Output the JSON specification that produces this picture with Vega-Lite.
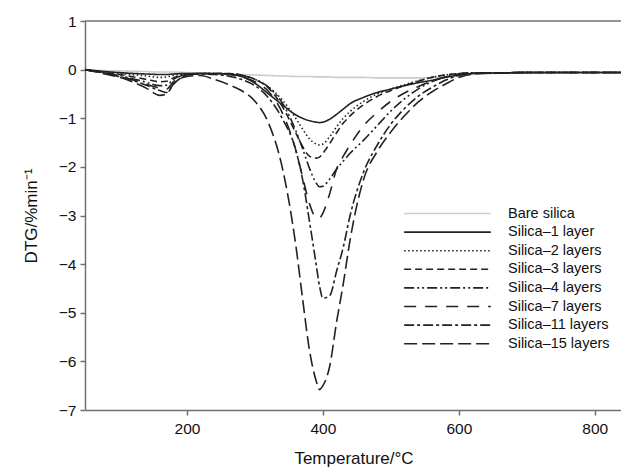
{
  "$schema": "https://vega.github.io/schema/vega-lite/v6.json",
  "width": 537,
  "height": 389,
  "autosize": "none",
  "padding": {"left": 85, "top": 21, "right": 0, "bottom": 61},
  "config": {
    "view": {"stroke": null},
    "font": "Liberation Sans",
    "axis": {"grid": false, "domainColor": "#707070", "domainWidth": 1.5, "tickColor": "#707070", "tickWidth": 1.5, "tickSize": 5, "labelColor": "#111", "labelFontSize": 15.5, "titleColor": "#111", "titleFontSize": 17, "titleFontWeight": "normal", "labelFont": "Liberation Sans", "titleFont": "Liberation Sans"}
  },
  "layer": [
    {
      "data": {"values": [{"y": 1}]},
      "mark": {"type": "rule", "color": "#707070", "strokeWidth": 1.5},
      "encoding": {"y": {"field": "y", "type": "quantitative", "scale": {"domain": [-7, 1]}}}
    },
    {
      "data": {"values": [
        {"T":50,"Bare silica":0,"Silica–1 layer":0,"Silica–2 layers":0,"Silica–3 layers":0,"Silica–4 layers":0,"Silica–7 layers":0,"Silica–11 layers":0,"Silica–15 layers":0},
        {"T":80,"Bare silica":-0.02,"Silica–1 layer":-0.04,"Silica–2 layers":-0.05,"Silica–3 layers":-0.06,"Silica–4 layers":-0.07,"Silica–7 layers":-0.08,"Silica–11 layers":-0.08,"Silica–15 layers":-0.09},
        {"T":110,"Bare silica":-0.03,"Silica–1 layer":-0.07,"Silica–2 layers":-0.09,"Silica–3 layers":-0.12,"Silica–4 layers":-0.15,"Silica–7 layers":-0.17,"Silica–11 layers":-0.18,"Silica–15 layers":-0.2},
        {"T":140,"Bare silica":-0.04,"Silica–1 layer":-0.09,"Silica–2 layers":-0.13,"Silica–3 layers":-0.2,"Silica–4 layers":-0.26,"Silica–7 layers":-0.3,"Silica–11 layers":-0.32,"Silica–15 layers":-0.38},
        {"T":160,"Bare silica":-0.05,"Silica–1 layer":-0.1,"Silica–2 layers":-0.16,"Silica–3 layers":-0.25,"Silica–4 layers":-0.33,"Silica–7 layers":-0.38,"Silica–11 layers":-0.43,"Silica–15 layers":-0.53},
        {"T":170,"Bare silica":-0.05,"Silica–1 layer":-0.1,"Silica–2 layers":-0.15,"Silica–3 layers":-0.24,"Silica–4 layers":-0.32,"Silica–7 layers":-0.4,"Silica–11 layers":-0.47,"Silica–15 layers":-0.5},
        {"T":180,"Bare silica":-0.05,"Silica–1 layer":-0.09,"Silica–2 layers":-0.12,"Silica–3 layers":-0.17,"Silica–4 layers":-0.2,"Silica–7 layers":-0.25,"Silica–11 layers":-0.3,"Silica–15 layers":-0.3},
        {"T":200,"Bare silica":-0.06,"Silica–1 layer":-0.08,"Silica–2 layers":-0.09,"Silica–3 layers":-0.1,"Silica–4 layers":-0.1,"Silica–7 layers":-0.11,"Silica–11 layers":-0.12,"Silica–15 layers":-0.14},
        {"T":220,"Bare silica":-0.07,"Silica–1 layer":-0.08,"Silica–2 layers":-0.08,"Silica–3 layers":-0.08,"Silica–4 layers":-0.08,"Silica–7 layers":-0.08,"Silica–11 layers":-0.09,"Silica–15 layers":-0.12},
        {"T":240,"Bare silica":-0.08,"Silica–1 layer":-0.08,"Silica–2 layers":-0.08,"Silica–3 layers":-0.08,"Silica–4 layers":-0.08,"Silica–7 layers":-0.09,"Silica–11 layers":-0.1,"Silica–15 layers":-0.2},
        {"T":260,"Bare silica":-0.09,"Silica–1 layer":-0.09,"Silica–2 layers":-0.08,"Silica–3 layers":-0.08,"Silica–4 layers":-0.09,"Silica–7 layers":-0.1,"Silica–11 layers":-0.13,"Silica–15 layers":-0.3},
        {"T":280,"Bare silica":-0.1,"Silica–1 layer":-0.14,"Silica–2 layers":-0.11,"Silica–3 layers":-0.11,"Silica–4 layers":-0.12,"Silica–7 layers":-0.15,"Silica–11 layers":-0.2,"Silica–15 layers":-0.43},
        {"T":300,"Bare silica":-0.11,"Silica–1 layer":-0.28,"Silica–2 layers":-0.2,"Silica–3 layers":-0.2,"Silica–4 layers":-0.2,"Silica–7 layers":-0.25,"Silica–11 layers":-0.33,"Silica–15 layers":-0.65},
        {"T":320,"Bare silica":-0.12,"Silica–1 layer":-0.5,"Silica–2 layers":-0.36,"Silica–3 layers":-0.38,"Silica–4 layers":-0.36,"Silica–7 layers":-0.45,"Silica–11 layers":-0.58,"Silica–15 layers":-1.1},
        {"T":340,"Bare silica":-0.13,"Silica–1 layer":-0.72,"Silica–2 layers":-0.62,"Silica–3 layers":-0.75,"Silica–4 layers":-0.68,"Silica–7 layers":-0.88,"Silica–11 layers":-1.0,"Silica–15 layers":-2.0},
        {"T":360,"Bare silica":-0.14,"Silica–1 layer":-0.93,"Silica–2 layers":-1.0,"Silica–3 layers":-1.3,"Silica–4 layers":-1.25,"Silica–7 layers":-1.65,"Silica–11 layers":-1.65,"Silica–15 layers":-3.6},
        {"T":370,"Bare silica":-0.14,"Silica–1 layer":-1.0,"Silica–2 layers":-1.22,"Silica–3 layers":-1.58,"Silica–4 layers":-1.62,"Silica–7 layers":-2.2,"Silica–11 layers":-2.25,"Silica–15 layers":-4.7},
        {"T":380,"Bare silica":-0.14,"Silica–1 layer":-1.05,"Silica–2 layers":-1.42,"Silica–3 layers":-1.78,"Silica–4 layers":-2.02,"Silica–7 layers":-2.75,"Silica–11 layers":-3.1,"Silica–15 layers":-5.75},
        {"T":390,"Bare silica":-0.15,"Silica–1 layer":-1.08,"Silica–2 layers":-1.53,"Silica–3 layers":-1.82,"Silica–4 layers":-2.33,"Silica–7 layers":-3.04,"Silica–11 layers":-4.0,"Silica–15 layers":-6.4},
        {"T":395,"Bare silica":-0.15,"Silica–1 layer":-1.09,"Silica–2 layers":-1.55,"Silica–3 layers":-1.8,"Silica–4 layers":-2.41,"Silica–7 layers":-3.05,"Silica–11 layers":-4.45,"Silica–15 layers":-6.58},
        {"T":400,"Bare silica":-0.15,"Silica–1 layer":-1.08,"Silica–2 layers":-1.53,"Silica–3 layers":-1.72,"Silica–4 layers":-2.4,"Silica–7 layers":-2.95,"Silica–11 layers":-4.7,"Silica–15 layers":-6.5},
        {"T":410,"Bare silica":-0.15,"Silica–1 layer":-1.02,"Silica–2 layers":-1.38,"Silica–3 layers":-1.52,"Silica–4 layers":-2.25,"Silica–7 layers":-2.55,"Silica–11 layers":-4.65,"Silica–15 layers":-6.1},
        {"T":420,"Bare silica":-0.16,"Silica–1 layer":-0.92,"Silica–2 layers":-1.18,"Silica–3 layers":-1.3,"Silica–4 layers":-2.05,"Silica–7 layers":-2.05,"Silica–11 layers":-4.15,"Silica–15 layers":-5.2},
        {"T":430,"Bare silica":-0.16,"Silica–1 layer":-0.81,"Silica–2 layers":-1.0,"Silica–3 layers":-1.1,"Silica–4 layers":-1.88,"Silica–7 layers":-1.78,"Silica–11 layers":-3.65,"Silica–15 layers":-4.4},
        {"T":440,"Bare silica":-0.16,"Silica–1 layer":-0.7,"Silica–2 layers":-0.86,"Silica–3 layers":-0.95,"Silica–4 layers":-1.72,"Silica–7 layers":-1.55,"Silica–11 layers":-3.0,"Silica–15 layers":-3.5},
        {"T":460,"Bare silica":-0.16,"Silica–1 layer":-0.57,"Silica–2 layers":-0.65,"Silica–3 layers":-0.72,"Silica–4 layers":-1.45,"Silica–7 layers":-1.15,"Silica–11 layers":-2.1,"Silica–15 layers":-2.25},
        {"T":480,"Bare silica":-0.17,"Silica–1 layer":-0.47,"Silica–2 layers":-0.5,"Silica–3 layers":-0.55,"Silica–4 layers":-1.15,"Silica–7 layers":-0.88,"Silica–11 layers":-1.55,"Silica–15 layers":-1.68},
        {"T":500,"Bare silica":-0.17,"Silica–1 layer":-0.4,"Silica–2 layers":-0.4,"Silica–3 layers":-0.43,"Silica–4 layers":-0.85,"Silica–7 layers":-0.65,"Silica–11 layers":-1.12,"Silica–15 layers":-1.28},
        {"T":520,"Bare silica":-0.17,"Silica–1 layer":-0.33,"Silica–2 layers":-0.31,"Silica–3 layers":-0.33,"Silica–4 layers":-0.6,"Silica–7 layers":-0.48,"Silica–11 layers":-0.8,"Silica–15 layers":-0.95},
        {"T":540,"Bare silica":-0.17,"Silica–1 layer":-0.27,"Silica–2 layers":-0.23,"Silica–3 layers":-0.24,"Silica–4 layers":-0.4,"Silica–7 layers":-0.35,"Silica–11 layers":-0.55,"Silica–15 layers":-0.67},
        {"T":560,"Bare silica":-0.16,"Silica–1 layer":-0.22,"Silica–2 layers":-0.16,"Silica–3 layers":-0.16,"Silica–4 layers":-0.25,"Silica–7 layers":-0.24,"Silica–11 layers":-0.37,"Silica–15 layers":-0.46},
        {"T":580,"Bare silica":-0.15,"Silica–1 layer":-0.16,"Silica–2 layers":-0.11,"Silica–3 layers":-0.11,"Silica–4 layers":-0.15,"Silica–7 layers":-0.15,"Silica–11 layers":-0.22,"Silica–15 layers":-0.3},
        {"T":600,"Bare silica":-0.13,"Silica–1 layer":-0.11,"Silica–2 layers":-0.08,"Silica–3 layers":-0.08,"Silica–4 layers":-0.09,"Silica–7 layers":-0.09,"Silica–11 layers":-0.12,"Silica–15 layers":-0.16},
        {"T":620,"Bare silica":-0.1,"Silica–1 layer":-0.08,"Silica–2 layers":-0.07,"Silica–3 layers":-0.07,"Silica–4 layers":-0.07,"Silica–7 layers":-0.07,"Silica–11 layers":-0.08,"Silica–15 layers":-0.09},
        {"T":650,"Bare silica":-0.08,"Silica–1 layer":-0.07,"Silica–2 layers":-0.07,"Silica–3 layers":-0.07,"Silica–4 layers":-0.07,"Silica–7 layers":-0.07,"Silica–11 layers":-0.07,"Silica–15 layers":-0.07},
        {"T":700,"Bare silica":-0.07,"Silica–1 layer":-0.06,"Silica–2 layers":-0.06,"Silica–3 layers":-0.06,"Silica–4 layers":-0.06,"Silica–7 layers":-0.06,"Silica–11 layers":-0.06,"Silica–15 layers":-0.06},
        {"T":750,"Bare silica":-0.06,"Silica–1 layer":-0.06,"Silica–2 layers":-0.06,"Silica–3 layers":-0.06,"Silica–4 layers":-0.06,"Silica–7 layers":-0.06,"Silica–11 layers":-0.06,"Silica–15 layers":-0.06},
        {"T":800,"Bare silica":-0.06,"Silica–1 layer":-0.06,"Silica–2 layers":-0.06,"Silica–3 layers":-0.06,"Silica–4 layers":-0.06,"Silica–7 layers":-0.06,"Silica–11 layers":-0.06,"Silica–15 layers":-0.06},
        {"T":840,"Bare silica":-0.06,"Silica–1 layer":-0.06,"Silica–2 layers":-0.06,"Silica–3 layers":-0.06,"Silica–4 layers":-0.06,"Silica–7 layers":-0.06,"Silica–11 layers":-0.06,"Silica–15 layers":-0.06}
      ]},
      "transform": [
        {"fold": ["Bare silica","Silica–1 layer","Silica–2 layers","Silica–3 layers","Silica–4 layers","Silica–7 layers","Silica–11 layers","Silica–15 layers"], "as": ["series", "value"]}
      ],
      "mark": {"type": "line", "strokeWidth": 1.6, "interpolate": "monotone", "clip": true},
      "encoding": {
        "x": {"field": "T", "type": "quantitative", "scale": {"domain": [50, 840], "nice": false, "zero": false},
              "axis": {"values": [200, 400, 600, 800], "title": "Temperature/°C", "titlePadding": 14, "labelPadding": 6}},
        "y": {"field": "value", "type": "quantitative", "scale": {"domain": [-7, 1], "nice": false},
              "axis": {"values": [1, 0, -1, -2, -3, -4, -5, -6, -7], "title": "DTG/%min⁻¹", "titlePadding": 18, "labelPadding": 4}},
        "color": {"field": "series", "type": "nominal",
                  "scale": {"domain": ["Bare silica","Silica–1 layer","Silica–2 layers","Silica–3 layers","Silica–4 layers","Silica–7 layers","Silica–11 layers","Silica–15 layers"],
                            "range": ["#cccccc","#222222","#222222","#222222","#222222","#222222","#222222","#222222"]},
                  "legend": {"title": null, "orient": "none", "legendX": 353, "legendY": 183, "symbolType": "M-5.1,0H5.1", "symbolSize": 289, "symbolStrokeWidth": 1.6, "symbolFillColor": "transparent", "labelFontSize": 14.5, "labelColor": "#111", "labelFont": "Liberation Sans", "rowPadding": 2.6, "labelOffset": 51, "padding": 0}},
        "strokeDash": {"field": "series", "type": "nominal",
                  "scale": {"domain": ["Bare silica","Silica–1 layer","Silica–2 layers","Silica–3 layers","Silica–4 layers","Silica–7 layers","Silica–11 layers","Silica–15 layers"],
                            "range": [[1,0],[1,0],[1.5,2.5],[7,4],[10,3,2,3,2,3],[12,9],[10,3,3,3],[13,5]]}}
      }
    }
  ]
}
